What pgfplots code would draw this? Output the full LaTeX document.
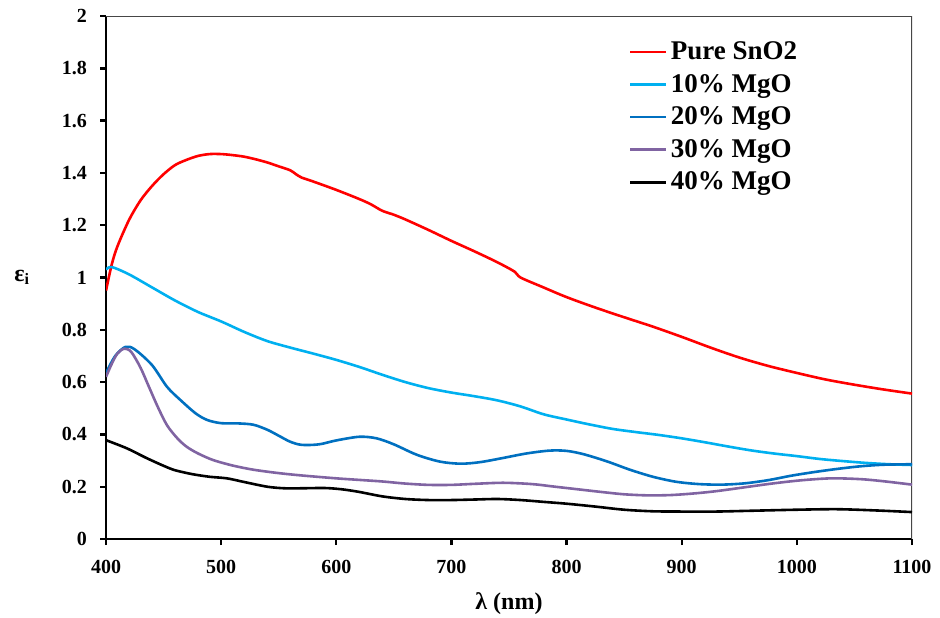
\documentclass[border=0pt]{standalone}
\usepackage{fontspec}
\setmainfont{Liberation Serif}
\usepackage{pgfplots}
\pgfplotsset{compat=1.18}

\definecolor{cRed}{RGB}{255,0,0}
\definecolor{cCyan}{RGB}{0,176,240}
\definecolor{cBlue}{RGB}{0,112,192}
\definecolor{cPurple}{RGB}{128,100,162}
\definecolor{cFrame}{RGB}{70,70,70}

\begin{document}
\begin{tikzpicture}
\begin{axis}[
  scale only axis,
  width=403pt, height=261.5pt,
  xmin=400, xmax=1100,
  ymin=0, ymax=2,
  xtick={400,500,...,1100},
  ytick={0,0.2,...,2.01},
  axis lines*=left,
  axis line style={line width=1.4pt},
  tick style={line width=1.2pt, black},
  tick align=outside,
  major tick length=3pt,
  /pgf/number format/assume math mode=true,
  /pgf/number format/1000 sep={},
  tick label style={font=\bfseries},
  xticklabel style={yshift=-4pt},
  yticklabel style={xshift=-3pt},
  xlabel={\large\bfseries λ (nm)},
  ylabel={\large\bfseries ε\textsubscript{i}},
  every axis x label/.style={at={(axis description cs:0.5,-0.123)}, anchor=center},
  every axis y label/.style={at={(axis description cs:-0.104,0.5)}, anchor=center},
  legend cell align=left,
  legend style={draw=none, fill=none, font=\fontsize{13.5}{15}\selectfont\bfseries,
    at={(axis description cs:0.641,0.967)}, anchor=north west,
    row sep=1.8pt,
    legend image code/.code={\draw[#1] (0cm,0cm) -- (0.62cm,0cm);}},
  every axis plot/.append style={line width=1.3pt, smooth},
]
\draw[cFrame, line width=0.6pt] (rel axis cs:0,1) -- (rel axis cs:1,1) -- (rel axis cs:1,0);

% Pure SnO2
\addplot[cRed] coordinates {
(400,0.95) (405,1.05) (410,1.12) (420,1.22) (430,1.295) (440,1.35) (450,1.395)
(460,1.43) (470,1.45) (480,1.465) (490,1.472) (500,1.472) (510,1.468) (520,1.462)
(530,1.452) (540,1.44) (550,1.425) (560,1.41) (565,1.395) (570,1.382) (580,1.367)
(600,1.335) (620,1.30) (630,1.28) (640,1.255) (650,1.24) (660,1.222) (680,1.182)
(700,1.14) (720,1.10) (740,1.058) (755,1.022) (760,1.0) (780,0.962) (800,0.925)
(825,0.885) (850,0.848) (875,0.812) (900,0.773) (925,0.732) (950,0.694)
(975,0.662) (1000,0.635) (1025,0.61) (1050,0.59) (1075,0.572) (1100,0.556)
};
\addlegendentry{Pure SnO2}

% 10% MgO
\addplot[cCyan] coordinates {
(400,1.03) (405,1.04) (420,1.012) (440,0.962) (460,0.912) (480,0.868) (500,0.832)
(520,0.792) (540,0.757) (560,0.732) (580,0.709) (600,0.685) (620,0.658) (640,0.628)
(660,0.600) (680,0.577) (700,0.560) (720,0.546) (740,0.530) (760,0.507) (780,0.477)
(800,0.457) (820,0.438) (840,0.421) (860,0.409) (880,0.398) (900,0.385) (920,0.370)
(940,0.354) (960,0.339) (980,0.327) (1000,0.317) (1020,0.306) (1040,0.298)
(1060,0.291) (1080,0.286) (1100,0.283)
};
\addlegendentry{10\% MgO}

% 20% MgO
\addplot[cBlue] coordinates {
(400,0.635) (408,0.70) (417,0.735) (425,0.725) (440,0.665) (453,0.582) (465,0.53)
(478,0.48) (488,0.455) (500,0.443) (515,0.442) (528,0.437) (540,0.418) (550,0.395)
(560,0.372) (570,0.36) (585,0.362) (600,0.377) (620,0.391) (635,0.385) (650,0.362)
(670,0.322) (690,0.296) (708,0.288) (725,0.294) (745,0.31) (765,0.327) (785,0.338)
(800,0.337) (815,0.324) (835,0.297) (855,0.265) (875,0.238) (895,0.219) (915,0.21)
(935,0.208) (955,0.213) (975,0.225) (995,0.242) (1015,0.256) (1035,0.268)
(1055,0.278) (1075,0.284) (1100,0.286)
};
\addlegendentry{20\% MgO}

% 30% MgO
\addplot[cPurple] coordinates {
(400,0.62) (405,0.67) (410,0.71) (416,0.728) (422,0.715) (430,0.655) (437,0.585)
(445,0.505) (453,0.435) (462,0.385) (470,0.353) (480,0.327) (493,0.302) (510,0.281)
(528,0.265) (550,0.252) (570,0.243) (600,0.232) (620,0.226) (640,0.22) (660,0.212)
(680,0.207) (700,0.207) (720,0.211) (745,0.215) (770,0.21) (790,0.2) (810,0.19)
(830,0.18) (850,0.171) (870,0.167) (890,0.168) (910,0.174) (930,0.183) (955,0.198)
(980,0.213) (1005,0.225) (1030,0.232) (1055,0.229) (1075,0.221) (1100,0.208)
};
\addlegendentry{30\% MgO}

% 40% MgO
\addplot[black] coordinates {
(400,0.378) (418,0.347) (435,0.31) (450,0.28) (460,0.263) (475,0.248) (490,0.238)
(505,0.232) (520,0.218) (540,0.2) (555,0.194) (570,0.194) (590,0.195) (605,0.19)
(620,0.18) (640,0.163) (660,0.153) (680,0.149) (700,0.149) (720,0.151) (740,0.153)
(760,0.149) (780,0.142) (800,0.135) (825,0.124) (850,0.112) (875,0.106) (900,0.105)
(930,0.105) (960,0.108) (1000,0.112) (1035,0.114) (1070,0.109) (1100,0.103)
};
\addlegendentry{40\% MgO}
\end{axis}
\pgfresetboundingbox
\useasboundingbox ([xshift=-53pt,yshift=-39pt]current axis.south west) rectangle ([xshift=14pt,yshift=8pt]current axis.north east);
\end{tikzpicture}
\end{document}
